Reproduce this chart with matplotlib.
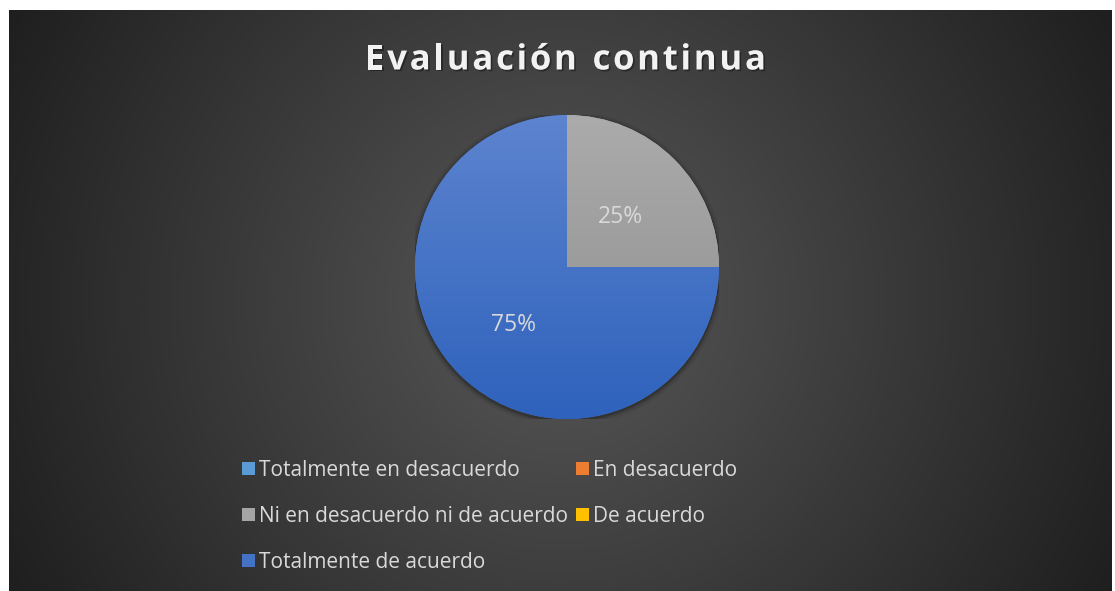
import numpy as np
import matplotlib
matplotlib.use("Agg")
import matplotlib.pyplot as plt
from matplotlib.patches import Patch, Circle
import matplotlib.patheffects as pe

# ---------------- data ----------------
title = "Evaluación continua"
categories = ["Totalmente en desacuerdo", "En desacuerdo",
              "Ni en desacuerdo ni de acuerdo", "De acuerdo",
              "Totalmente de acuerdo"]
values = [0, 0, 25, 0, 75]
colors = ["#5b9bd5", "#ed7d31", "#a5a5a5", "#ffc000", "#4472c4"]
# top/bottom gradient shades for visible slices
grad_top = {"#a5a5a5": "#ababab", "#4472c4": "#5d84cf"}
grad_bot = {"#a5a5a5": "#8d8d8d", "#4472c4": "#2e62bc"}

plt.rcParams['font.family'] = ['Open Sans', 'DejaVu Sans']

W, H = 1115, 591
fig = plt.figure(figsize=(W / 100, H / 100), dpi=100)
fig.patch.set_facecolor("white")

# ---------------- background (radial gradient) ----------------
x0, y0, x1, y1 = 9, 10, 1112, 591
bg = fig.add_axes([x0 / W, 1 - y1 / H, (x1 - x0) / W, (y1 - y0) / H])
bg.set_axis_off()
nx, ny = x1 - x0, y1 - y0
xx, yy = np.meshgrid(np.arange(nx) + x0, np.arange(ny) + y0)
cx, cy = 560, 300
r = np.hypot(xx - cx, yy - cy)
t = np.clip(r / 640.0, 0, 1)
c_in, c_out = 0x58 / 255, 0x1d / 255
val = c_in + (c_out - c_in) * t
img = np.dstack([val, val, val])
bg.imshow(img, aspect="auto", extent=[0, 1, 0, 1], origin="upper")
bg.set_xlim(0, 1)
bg.set_ylim(0, 1)

# ---------------- pie ----------------
pcx, pcy, pr = 567, 267, 152
ax = fig.add_axes([(pcx - pr) / W, 1 - (pcy + pr) / H, 2 * pr / W, 2 * pr / H])
ax.set_axis_off()

# subtle shadow
for k, a in [(1.035, 0.06), (1.02, 0.10), (1.008, 0.18)]:
    ax.add_patch(Circle((0, -0.01), k, color="black", alpha=a, zorder=0, lw=0))


def pct(p):
    return f"{p:.0f}%" if p > 0.5 else ""


wedges, texts, autotexts = ax.pie(
    values, colors=colors, startangle=90, counterclock=False,
    autopct=pct, pctdistance=0.5, radius=1.0,
    wedgeprops=dict(linewidth=0, zorder=1),
    textprops=dict(color="#d9d9d9", fontsize=16.5))

grad = np.linspace(0, 1, 256)[:, None]
for w, v, c in zip(wedges, values, colors):
    if v <= 0:
        continue
    top = np.array(matplotlib.colors.to_rgb(grad_top[c]))
    bot = np.array(matplotlib.colors.to_rgb(grad_bot[c]))
    g = top[None, None, :] * (1 - grad[:, :, None]) + bot[None, None, :] * grad[:, :, None]
    g = np.repeat(g, 4, axis=1)
    im = ax.imshow(g, extent=[-1, 1, -1, 1], origin="upper", aspect="auto", zorder=2)
    im.set_clip_path(w)
for at in autotexts:
    at.set_zorder(5)
    px, py = at.get_position()
    at.set_position((px, py - 0.025))
ax.set_xlim(-1, 1)
ax.set_ylim(-1, 1)

# ---------------- legend ----------------
order = [0, 2, 4, 1, 3]
handles = [Patch(facecolor=colors[i], edgecolor="none") for i in order]
labels = [categories[i] for i in order]
leg = fig.legend(handles, labels, ncol=2, loc="upper left",
                 bbox_to_anchor=(242 / W, 1 - 460 / H),
                 frameon=False, fontsize=15.0, labelcolor="#d9d9d9",
                 handlelength=0.6, handleheight=0.6, handletextpad=0.2,
                 columnspacing=0.4, labelspacing=1.2, borderpad=0,
                 borderaxespad=0)

# ---------------- title (letter-spaced) ----------------
fig.canvas.draw()
renderer = fig.canvas.get_renderer()
fs = 25
tprops = dict(fontsize=fs, fontweight="bold", color="#f2f2f2")
widths = []
for ch in title:
    tt = fig.text(0, 0, ch if ch != " " else "n", **tprops)
    wbb = tt.get_window_extent(renderer).width
    if ch == " ":
        wbb *= 0.45
    widths.append(wbb)
    tt.remove()
target_left, target_right = 365, 766
nat = sum(widths)
spacing = (target_right - target_left - nat) / (len(title) - 1)
xpos = target_left
shadow = [pe.withSimplePatchShadow(offset=(1.2, -1.2), shadow_rgbFace="black", alpha=0.35)]
for ch, wch in zip(title, widths):
    if ch != " ":
        fig.text(xpos / W, 1 - 56 / H, ch, ha="left", va="center_baseline",
                 path_effects=shadow, **tprops)
    xpos += wch + spacing

fig.savefig("out.png", dpi=100, facecolor=fig.get_facecolor())
